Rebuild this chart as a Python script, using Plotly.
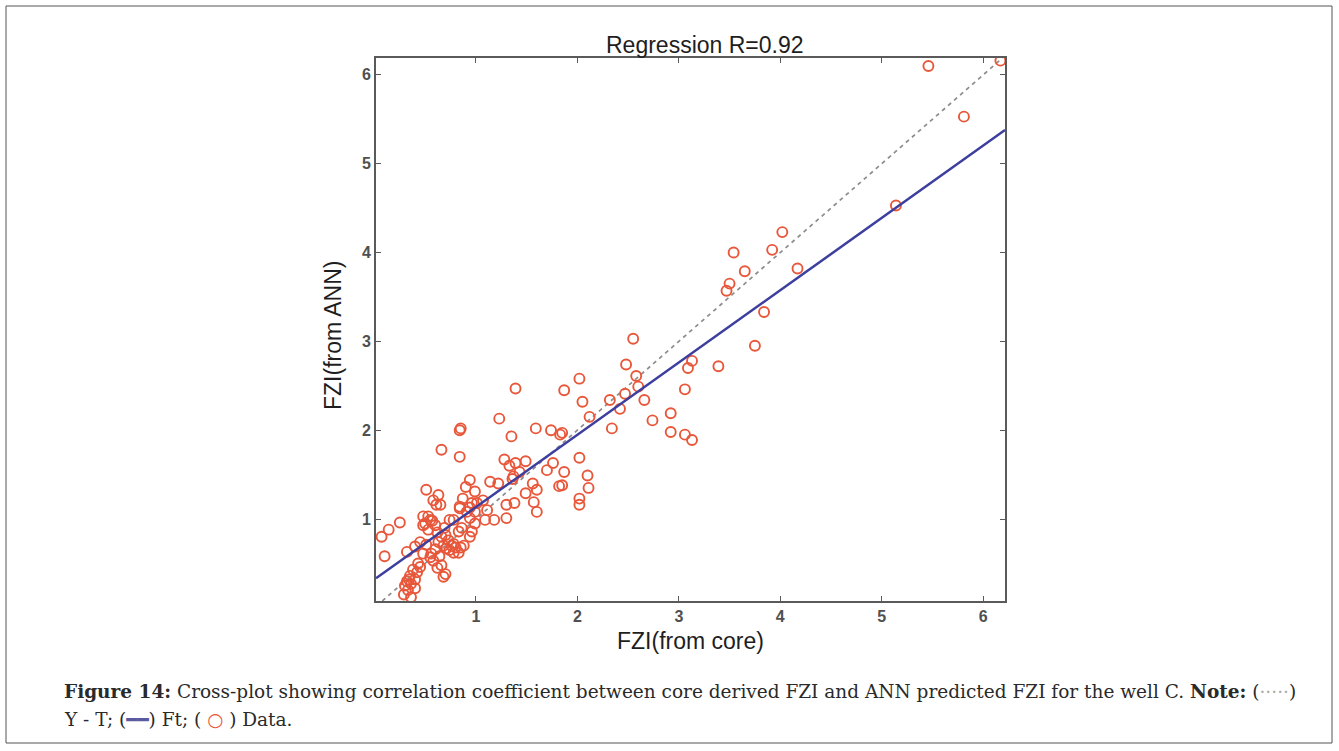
import plotly.graph_objects as go

# ---- data ----
core_fzi = [
    # bottom cluster
    0.29, 0.36, 0.33, 0.30, 0.36, 0.32, 0.40, 0.35, 0.42, 0.38, 0.45, 0.43, 0.40, 0.34,
    # lower-mid cluster
    0.48, 0.56, 0.40, 0.45, 0.32, 0.53, 0.48, 0.50, 0.53, 0.57, 0.60, 0.62, 0.66, 0.63,
    0.68, 0.71, 0.74, 0.76, 0.73, 0.70, 0.69, 0.74, 0.78, 0.64, 0.58, 0.66, 0.70, 0.68,
    0.62, 0.55, 0.60, 0.51, 0.83, 0.86, 0.96, 0.94, 0.80, 0.78, 0.85, 0.88, 0.83,
    # far left
    0.07, 0.14, 0.25, 0.10,
    # upper-left
    0.51, 0.63, 0.58, 0.65, 0.61, 0.66, 0.84, 0.84, 0.85, 0.94, 0.90, 0.99, 0.87, 1.07,
    0.84, 0.96, 0.91, 0.99, 0.48, 0.55, 0.78, 0.94, 1.09, 1.01, 0.94, 0.84, 0.99,
    # middle
    1.14, 1.22, 1.36, 1.37, 1.43, 1.28, 1.39, 1.49, 1.33, 1.76, 1.70, 1.60, 1.49, 1.82,
    1.56, 1.30, 1.38, 1.11, 1.18, 1.30, 1.60, 1.57, 1.23, 1.39, 1.35, 1.59, 1.74, 1.83,
    1.87, 2.10, 1.85, 2.11, 2.02, 2.02, 2.02, 1.85,
    # upper
    2.02, 1.87, 2.05, 2.32, 2.47, 2.42, 2.66, 2.12, 2.34, 2.74, 2.92, 2.92, 3.06, 3.13,
    2.55, 3.13, 3.09, 3.39, 3.06, 2.48, 2.58, 2.60, 3.84, 3.75, 3.47, 3.50, 3.65, 4.17,
    3.54, 3.92, 4.02, 5.14, 5.81, 5.46, 6.17,
]
ann_fzi = [
    0.15, 0.12, 0.20, 0.25, 0.27, 0.30, 0.32, 0.36, 0.40, 0.43, 0.46, 0.50, 0.22, 0.32,
    0.61, 0.61, 0.69, 0.74, 0.63, 0.88, 0.93, 0.95, 1.03, 0.98, 0.93, 0.85, 0.80, 0.74,
    0.70, 0.67, 0.65, 0.70, 0.76, 0.82, 0.90, 0.99, 0.72, 0.58, 0.53, 0.48, 0.38, 0.35,
    0.45, 0.57, 0.66, 0.71, 0.86, 0.90, 0.86, 0.80, 0.68, 0.62, 0.68, 0.70, 0.62,
    0.80, 0.88, 0.96, 0.58,
    1.33, 1.27, 1.21, 1.16, 1.16, 1.78, 1.70, 2.00, 2.02, 1.44, 1.36, 1.31, 1.23, 1.21,
    1.14, 1.18, 1.08, 1.08, 1.03, 0.99, 0.99, 1.01, 0.99, 1.18, 1.13, 1.12, 0.95,
    1.42, 1.40, 1.45, 1.48, 1.53, 1.67, 1.63, 1.65, 1.60, 1.63, 1.55, 1.33, 1.29, 1.37,
    1.40, 1.16, 1.18, 1.10, 0.99, 1.01, 1.08, 1.19, 2.13, 2.47, 1.93, 2.02, 2.00, 1.95,
    1.53, 1.49, 1.38, 1.35, 1.23, 1.16, 1.69, 1.97,
    2.58, 2.45, 2.32, 2.34, 2.41, 2.24, 2.34, 2.15, 2.02, 2.11, 2.19, 1.98, 1.95, 1.89,
    3.03, 2.78, 2.70, 2.72, 2.46, 2.74, 2.61, 2.49, 3.33, 2.95, 3.57, 3.65, 3.79, 3.82,
    4.00, 4.03, 4.23, 4.53, 5.53, 6.10, 6.16,
]

fit_slope = 0.814
fit_intercept = 0.32
x_range = [0.015, 6.215]
y_range = [0.077, 6.19]
tick_vals = [1, 2, 3, 4, 5, 6]
tick_text = ["1", "2", "3", "4", "5", "6"]

title_text = "Regression R=0.92"
x_title = "FZI(from core)"
y_title = "FZI(from ANN)"

# ---- figure ----
W, H = 1339, 751
L, R, T, B = 376, 1005, 58, 601

fig = go.Figure()

# Y = T line
yt_lo = max(x_range[0], y_range[0])
yt_hi = min(x_range[1], y_range[1])
fig.add_trace(go.Scatter(
    x=[yt_lo, yt_hi], y=[yt_lo, yt_hi], mode="lines",
    line=dict(color="#8c8c8c", width=1.7, dash="4px,4px"),
    hoverinfo="skip", showlegend=False))

# data
fig.add_trace(go.Scatter(
    x=core_fzi, y=ann_fzi, mode="markers",
    marker=dict(symbol="circle-open", size=10, color="#e8573a",
                line=dict(width=1.9, color="#e8573a")),
    showlegend=False))

# fit line
fx = [x_range[0], x_range[1]]
fy = [fit_slope * v + fit_intercept for v in fx]
fig.add_trace(go.Scatter(
    x=fx, y=fy, mode="lines",
    line=dict(color="#3d3f9e", width=2.5),
    hoverinfo="skip", showlegend=False))


def px(xp):
    return (xp - L) / (R - L)


def py(yp):
    return (B - yp) / (B - T)


axis_common = dict(
    showgrid=False, zeroline=False, showline=True, linecolor="#5a5a5a",
    linewidth=1.6, mirror="ticks", ticks="inside", ticklen=5,
    tickcolor="#5a5a5a", tickwidth=1.3,
    tickvals=tick_vals, ticktext=[f"<b>{t}</b>" for t in tick_text],
    tickfont=dict(family="Liberation Sans", size=16, color="#505050"),
)

fig.update_layout(
    width=W, height=H,
    margin=dict(l=L, r=W - R, t=T, b=H - B),
    paper_bgcolor="white", plot_bgcolor="white",
    xaxis=dict(range=x_range, **axis_common),
    yaxis=dict(range=y_range, **axis_common),
    shapes=[
        # outer frame of the figure
        dict(type="rect", xref="paper", yref="paper",
             x0=px(6), x1=px(1332), y0=py(743), y1=py(6),
             line=dict(color="#555555", width=1), layer="below"),
    ],
    annotations=[
        dict(text=title_text, xref="paper", yref="paper", x=px(705), y=py(45),
             showarrow=False, xanchor="center", yanchor="middle",
             font=dict(family="Liberation Sans", size=23, color="#1e1e1e")),
        dict(text=x_title, xref="paper", yref="paper", x=px(690), y=py(641),
             showarrow=False, xanchor="center", yanchor="middle",
             font=dict(family="Liberation Sans", size=23, color="#1e1e1e")),
        dict(text=y_title, xref="paper", yref="paper", x=px(333), y=py(335),
             showarrow=False, xanchor="center", yanchor="middle", textangle=-90,
             font=dict(family="Liberation Sans", size=23, color="#1e1e1e")),
        dict(text="<b>Figure 14:</b> Cross-plot showing correlation coefficient between core derived FZI "
                  "and ANN predicted FZI for the well C. <b>Note:</b> "
                  "(<span style='color:#aaaaaa'>·····</span>)",
             xref="paper", yref="paper", x=px(62), y=py(691),
             showarrow=False, xanchor="left", yanchor="middle",
             font=dict(family="DejaVu Serif", size=18.5, color="#2a2a2a")),
        dict(text="Y - T; (<span style='color:#5a5aa0'><b>━━</b></span>) Ft; "
                  "( <span style='color:#e8573a'><b>○</b></span> ) Data.",
             xref="paper", yref="paper", x=px(62), y=py(719),
             showarrow=False, xanchor="left", yanchor="middle",
             font=dict(family="DejaVu Serif", size=18.5, color="#2a2a2a")),
    ],
)

fig.write_html("out.html")
